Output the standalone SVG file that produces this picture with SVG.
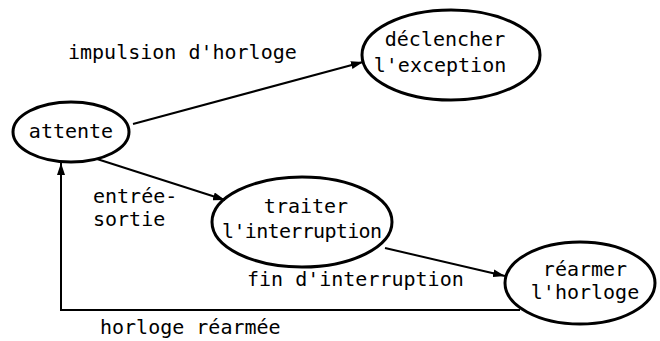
<svg xmlns="http://www.w3.org/2000/svg" width="660" height="341" viewBox="0 0 660 341">
<style>
.node{fill:none;stroke:#000;stroke-width:3}
.edge{fill:none;stroke:#000;stroke-width:2}
text{font-family:"DejaVu Sans Mono","Liberation Mono",monospace;font-size:20px;fill:#000}
.c{text-anchor:middle}
</style>
<defs>
<marker id="arr" viewBox="0 0 12 8" refX="12" refY="4" markerWidth="12" markerHeight="8" markerUnits="userSpaceOnUse" orient="auto">
<path d="M0,0 L12,4 L0,8 Z" fill="#000"/>
</marker>
</defs>
<rect width="660" height="341" fill="#fff"/>
<g id="connectors">
<path class="edge" d="M133,124 L363,62" marker-end="url(#arr)"/>
<path class="edge" d="M97,159 L225,200" marker-end="url(#arr)"/>
<path class="edge" d="M385,248 L505,276" marker-end="url(#arr)"/>
<path class="edge" d="M520,310 L61,310 L61,163" marker-end="url(#arr)"/>
</g>
<g id="attente">
<ellipse class="node" cx="71" cy="132" rx="58" ry="30"/>
<text class="c" x="71" y="138">attente</text>
</g>
<g id="declencher">
<ellipse class="node" cx="451" cy="55" rx="89" ry="45"/>
<text class="c" x="445" y="46">déclencher</text>
<text class="c" x="440" y="72">l'exception</text>
</g>
<g id="traiter">
<ellipse class="node" cx="302" cy="222" rx="90" ry="45"/>
<text class="c" x="306" y="213">traiter</text>
<text class="c" x="302" y="238" textLength="160" lengthAdjust="spacing">l'interruption</text>
</g>
<g id="rearmer">
<ellipse class="node" cx="580" cy="283" rx="75" ry="41"/>
<text class="c" x="585" y="276">réarmer</text>
<text class="c" x="585" y="299">l'horloge</text>
</g>
<g id="labels">
<text x="68" y="59">impulsion d'horloge</text>
<text x="93" y="203">entrée-</text>
<text x="93" y="226">sortie</text>
<text x="247" y="286">fin d'interruption</text>
<text x="100" y="334">horloge réarmée</text>
</g>
</svg>
